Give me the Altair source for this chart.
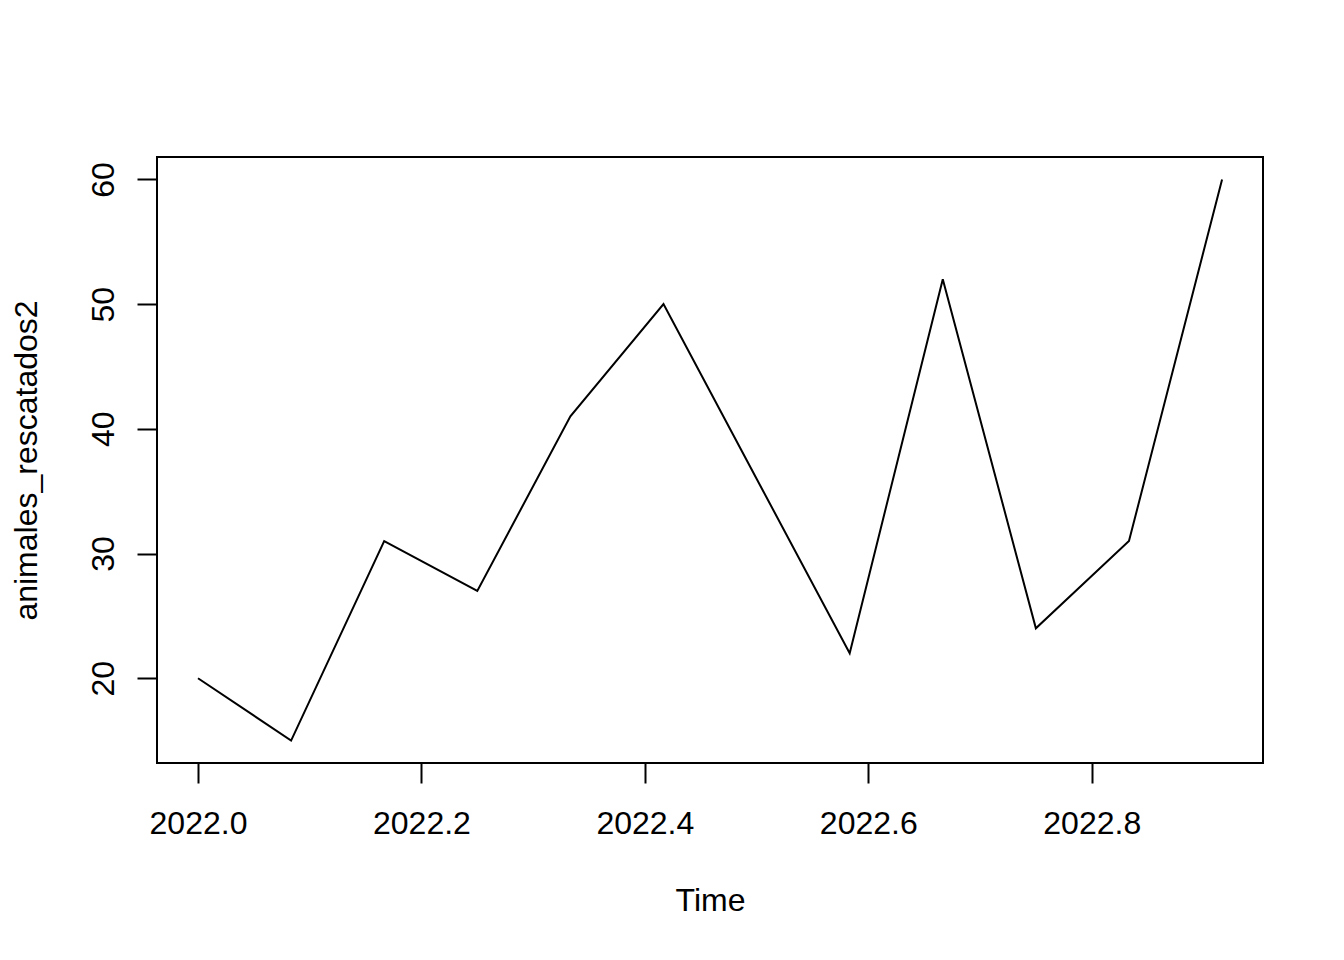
import altair as alt
import pandas as pd

start_year = 2022
month_index = [0, 1, 2, 3, 4, 5, 6, 7, 8, 9, 10, 11]
animales_rescatados2 = [20, 15, 31, 27, 41, 50, 36, 22, 52, 24, 31, 60]
x_ticks = [2022.0, 2022.2, 2022.4, 2022.6, 2022.8]
y_ticks = [20, 30, 40, 50, 60]

df = pd.DataFrame({
    "Time": [start_year + m / 12 for m in month_index],
    "animales_rescatados2": animales_rescatados2,
})

FONT = "Liberation Sans"

chart = alt.Chart(df).mark_line(color="black", strokeWidth=2).encode(
    x=alt.X(
        "Time:Q",
        scale=alt.Scale(domain=[2021.9633, 2022.9533], nice=False, zero=False),
        axis=alt.Axis(
            values=x_ticks, format=".1f", grid=False, domain=False,
            tickSize=20, tickWidth=2, tickColor="black",
            labelFont=FONT, labelFontSize=32, labelColor="black",
            labelBaseline="alphabetic", labelPadding=50, labelFlush=False,
            labelOverlap=False,
            title="Time", titleFont=FONT, titleFontSize=32, titleColor="black",
            titleFontWeight="normal", titleBaseline="alphabetic", titleY=147,
        ),
    ),
    y=alt.Y(
        "animales_rescatados2:Q",
        scale=alt.Scale(domain=[13.2, 61.8], nice=False, zero=False),
        axis=alt.Axis(
            values=y_ticks, format="d", grid=False, domain=False,
            tickSize=20, tickWidth=2, tickColor="black",
            labelFont=FONT, labelFontSize=32, labelColor="black",
            labelAngle=270, labelAlign="center", labelBaseline="alphabetic",
            labelPadding=24, labelFlush=False, labelOverlap=False,
            title="animales_rescatados2", titleFont=FONT, titleFontSize=32,
            titleColor="black", titleFontWeight="normal",
            titleBaseline="alphabetic", titleX=-121,
        ),
    ),
).properties(
    width=1106,
    height=606,
    autosize=alt.AutoSizeParams(type="none"),
    padding={"left": 149, "top": 149, "right": 73, "bottom": 189},
    background="white",
).configure_view(
    stroke="black", strokeWidth=2
)

chart.save("out.html", embed_options={"renderer": "svg", "actions": False})
